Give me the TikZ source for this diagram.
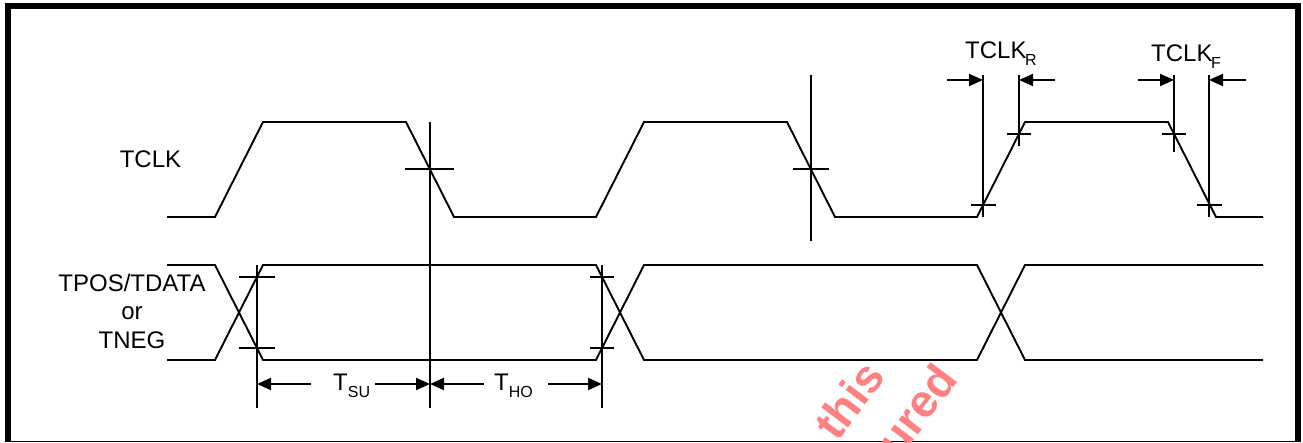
\documentclass[tikz,border=0pt]{standalone}
\usepackage{fontspec}
\setmainfont{Liberation Sans}
\usetikzlibrary{arrows.meta}

\newcommand{\lowsub}[1]{\raisebox{-7pt}{\fontsize{16}{16}\selectfont #1}}

\tikzset{
  wave/.style={line width=1.9pt},
  tickline/.style={line width=1.9pt},
  dimarrow/.style={line width=1.9pt,-{Triangle[length=14pt,width=12pt]}},
  lbl/.style={font=\fontsize{24}{28.5}\selectfont,inner sep=0pt},
  wmark/.style={text=red!50,font=\bfseries\fontsize{46}{46}\selectfont,inner sep=0pt,rotate=53},
}

\begin{document}
\begin{tikzpicture}[x=1pt,y=-1pt]
  \useasboundingbox (0,0) rectangle (1303,443);
  % frame
  \draw[line width=6pt] (8,441.5) -- (8,6) -- (1298,6) -- (1298,441.5);
  \draw[line width=1.2pt] (5,441.5) -- (1301,441.5);

  % signal names
  \node[lbl,anchor=base] (tclk) at (150.5,168) {TCLK};
  \node[lbl,anchor=north,align=center] (tdata) at (132,273.5) {TPOS/TDATA\\or\\TNEG};

  % TCLK
  \draw[wave] (167,217) foreach \x in {215,596,977}{ -- (\x,217) -- (\x+48,122) -- (\x+191,122) -- (\x+239,217)} -- (1263,217);

  % data bus
  \draw[wave] (167,265) -- (215,265) -- (263,360) -- (596,360) -- (644,265) -- (977,265) -- (1025,360) -- (1263,360);
  \draw[wave] (167,360) -- (215,360) -- (263,265) -- (596,265) -- (644,360) -- (977,360) -- (1025,265) -- (1263,265);

  % reference lines
  \draw[tickline] (257,265) -- (257,408) (239,277) -- (275,277) (239,348) -- (275,348);
  \draw[tickline] (430,122) -- (430,408) (405,169) -- (454,169);
  \draw[tickline] (602,265) -- (602,408) (590,277) -- (614,277) (590,348) -- (614,348);
  \draw[tickline] (811,75) -- (811,241) (793,169) -- (829,169);
  \draw[tickline] (983,75) -- (983,217) (971,205) -- (996,205);
  \draw[tickline] (1019,75) -- (1019,146) (1007,134) -- (1031,134);
  \draw[tickline] (1174,75) -- (1174,152) (1162,134) -- (1186,134);
  \draw[tickline] (1209,75) -- (1209,217) (1197,205) -- (1222,205);

  % setup / hold
  \coordinate (m1) at (257,384);
  \coordinate (m2) at (430,384);
  \coordinate (m3) at (602,384);
  \draw[dimarrow] (m1) ++(54,0) coordinate (su0) -- (m1);
  \draw[dimarrow] (m2) ++(-55,0) coordinate (su1) -- (m2);
  \draw[dimarrow] (m2) ++(54,0) coordinate (ho0) -- (m2);
  \draw[dimarrow] (m3) ++(-54,0) coordinate (ho1) -- (m3);
  \node[lbl,anchor=base west] (tsu) at (333,390) {T\lowsub{SU}};
  \node[lbl,anchor=base west] (tho) at (494,390) {T\lowsub{HO}};

  % rise / fall
  \coordinate (r1) at (983,80);
  \coordinate (r2) at (1019,80);
  \coordinate (f1) at (1174,80);
  \coordinate (f2) at (1209,80);
  \draw[dimarrow] (r1) ++(-36,0) coordinate (r0) -- (r1);
  \draw[dimarrow] (r2) ++(36,0) coordinate (r3) -- (r2);
  \draw[dimarrow] (f1) ++(-36,0) coordinate (f0) -- (f1);
  \draw[dimarrow] (f2) ++(37,0) coordinate (f3) -- (f2);
  \node[lbl,anchor=base west] (tclkr) at (965,59) {TCLK\hspace{-1.5pt}\lowsub{R}};
  \node[lbl,anchor=base west] (tclkf) at (1151,62) {TCLK\hspace{-1.5pt}\lowsub{F}};

  % watermark
  \node[wmark] (wm1) at (849,400) {this};
  \node[wmark] (wm2) at (916,410) {ured};
\end{tikzpicture}
\end{document}
